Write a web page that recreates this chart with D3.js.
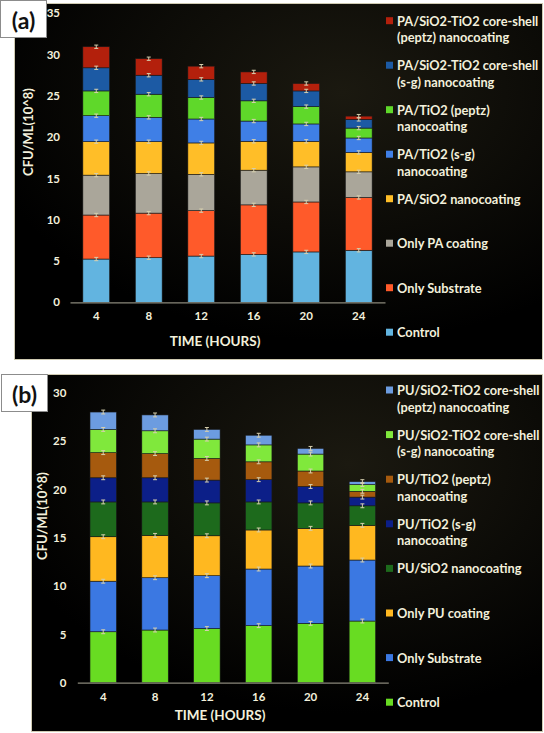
<!DOCTYPE html>
<html>
<head>
<meta charset="utf-8">
<script src="https://cdn.jsdelivr.net/npm/d3@7"></script>
<style>
  html, body { margin: 0; padding: 0; background: #ffffff; }
  svg { display: block; }
  text { font-family: Lato, "Open Sans", "DejaVu Sans", sans-serif; font-weight: bold; }
</style>
</head>
<body>
<svg id="chart" width="544" height="733"></svg>
<script>
// ---------------- DATA ----------------
const hours = ["4", "8", "12", "16", "20", "24"];

// Panel (a) series (bottom -> top of the stack)
const seriesA = [
  "Control",
  "Only Substrate",
  "Only PA coating",
  "PA/SiO2 nanocoating",
  "PA/TiO2 (s-g) nanocoating",
  "PA/TiO2 (peptz) nanocoating",
  "PA/SiO2-TiO2 core-shell (s-g) nanocoating",
  "PA/SiO2-TiO2 core-shell (peptz) nanocoating"
];
const controlA      = [5.24, 5.40, 5.60, 5.80, 6.10, 6.30];
const substrateA    = [5.33, 5.40, 5.50, 6.00, 6.05, 6.40];
const onlyPA        = [4.83, 4.80, 4.40, 4.20, 4.25, 3.10];
const paSiO2        = [4.05, 3.85, 3.80, 3.50, 3.10, 2.35];
const paTiO2sg      = [3.15, 2.95, 2.90, 2.45, 2.10, 1.75];
const paTiO2peptz   = [3.00, 2.80, 2.60, 2.45, 2.10, 1.20];
const paCoreSg      = [2.80, 2.30, 2.20, 2.10, 1.90, 1.05];
const paCorePeptz   = [2.55, 2.00, 1.60, 1.40, 0.90, 0.40];
const valuesA = [controlA, substrateA, onlyPA, paSiO2, paTiO2sg, paTiO2peptz, paCoreSg, paCorePeptz];
const colorsA = ["#62b4e0", "#ff5a2a", "#aaa69a", "#ffbe28", "#3f7fe6", "#5fd82a", "#1c5aa4", "#b3200c"];
const legendA = [
  ["PA/SiO2-TiO2 core-shell", "(peptz) nanocoating"],
  ["PA/SiO2-TiO2 core-shell", "(s-g) nanocoating"],
  ["PA/TiO2 (peptz)", "nanocoating"],
  ["PA/TiO2 (s-g)", "nanocoating"],
  ["PA/SiO2 nanocoating"],
  ["Only PA coating"],
  ["Only Substrate"],
  ["Control"]
];
const ticksA = [0, 5, 10, 15, 20, 25, 30, 35];

// Panel (b) series (bottom -> top of the stack)
const seriesB = [
  "Control",
  "Only Substrate",
  "Only PU coating",
  "PU/SiO2 nanocoating",
  "PU/TiO2 (s-g) nanocoating",
  "PU/TiO2 (peptz) nanocoating",
  "PU/SiO2-TiO2 core-shell (s-g) nanocoating",
  "PU/SiO2-TiO2 core-shell (peptz) nanocoating"
];
const controlB      = [5.27, 5.45, 5.60, 5.90, 6.14, 6.38];
const substrateB    = [5.23, 5.41, 5.47, 5.86, 5.93, 6.31];
const onlyPU        = [4.60, 4.38, 4.13, 4.04, 3.90, 3.59];
const puSiO2        = [3.60, 3.46, 3.40, 2.90, 2.63, 2.02];
const puTiO2sg      = [2.50, 2.50, 2.36, 2.30, 1.70, 0.90];
const puTiO2peptz   = [2.60, 2.50, 2.24, 1.85, 1.60, 0.60];
const puCoreSg      = [2.40, 2.36, 2.00, 1.75, 1.75, 0.70];
const puCorePeptz   = [1.80, 1.64, 1.00, 1.00, 0.59, 0.30];
const valuesB = [controlB, substrateB, onlyPU, puSiO2, puTiO2sg, puTiO2peptz, puCoreSg, puCorePeptz];
const colorsB = ["#68dc22", "#3b78e2", "#ffb820", "#1d6a1c", "#0c1f88", "#a65a0e", "#80e83c", "#6c9ce0"];
const legendB = [
  ["PU/SiO2-TiO2 core-shell", "(peptz) nanocoating"],
  ["PU/SiO2-TiO2 core-shell", "(s-g) nanocoating"],
  ["PU/TiO2 (peptz)", "nanocoating"],
  ["PU/TiO2 (s-g)", "nanocoating"],
  ["PU/SiO2 nanocoating"],
  ["Only PU coating"],
  ["Only Substrate"],
  ["Control"]
];
const ticksB = [0, 5, 10, 15, 20, 25, 30];

const errHalf = 0.2; // half-length of the small error bars (CFU/ML x10^8)
const textColor = "#f3f0dc";

// ---------------- DRAW ----------------
const svg = d3.select("#chart");
const defs = svg.append("defs");
const bg = defs.append("radialGradient").attr("id", "bgGrad")
  .attr("cx", "0.62").attr("cy", "0.25").attr("r", "0.7");
bg.append("stop").attr("offset", "0").attr("stop-color", "#1b1910");
bg.append("stop").attr("offset", "1").attr("stop-color", "#000000");

function drawPanel(p) {
  const g = svg.append("g");
  // background box
  g.append("rect")
    .attr("x", p.box[0] + 0.5).attr("y", p.box[1] + 0.5)
    .attr("width", p.box[2] - p.box[0]).attr("height", p.box[3] - p.box[1])
    .attr("fill", "url(#bgGrad)").attr("stroke", "#cfcab2").attr("stroke-width", 1);

  const x = d3.scaleBand().domain(hours).range(p.xRange)
    .paddingInner(0.49).paddingOuter(0.245);
  const y = d3.scaleLinear().domain([0, p.yMax]).range(p.yRange);

  const table = hours.map((h, i) => {
    const row = { hour: h };
    p.series.forEach((s, k) => { row[s] = p.values[k][i]; });
    return row;
  });
  const stacked = d3.stack().keys(p.series)(table);

  // bars
  const layers = g.append("g").selectAll("g").data(stacked).join("g")
    .attr("fill", (d, k) => p.colors[k]);
  layers.selectAll("rect").data(d => d).join("rect")
    .attr("x", d => x(d.data.hour))
    .attr("width", x.bandwidth())
    .attr("y", d => y(d[1]))
    .attr("height", d => y(d[0]) - y(d[1]))
    .attr("stroke", "#1a1a1a").attr("stroke-width", 0.6);

  // error bars at each segment top
  const eb = g.append("g").attr("stroke", "#d6cfae").attr("stroke-width", 1);
  stacked.forEach(layer => {
    layer.forEach(d => {
      const cx = x(d.data.hour) + x.bandwidth() / 2;
      const y1 = y(d[1] + errHalf), y2 = y(d[1] - errHalf);
      eb.append("line").attr("x1", cx).attr("x2", cx).attr("y1", y1).attr("y2", y2);
      eb.append("line").attr("x1", cx - 2).attr("x2", cx + 2).attr("y1", y1).attr("y2", y1);
      eb.append("line").attr("x1", cx - 2).attr("x2", cx + 2).attr("y1", y2).attr("y2", y2);
    });
  });

  // y axis
  const ya = g.append("g").attr("transform", `translate(${p.xRange[0]},0)`)
    .call(d3.axisLeft(y).tickValues(p.ticks).tickSize(0).tickPadding(p.yPad));
  ya.select(".domain").remove();
  ya.selectAll("text").attr("fill", textColor).style("font-size", "11.5px")
    .style("font-weight", "bold");

  // x axis
  const xa = g.append("g").attr("transform", `translate(0,${p.yRange[0]})`)
    .call(d3.axisBottom(x).tickSize(0).tickPadding(10));
  xa.select(".domain").attr("stroke", "#8a877a").attr("stroke-width", 1.2);
  xa.selectAll("text").attr("fill", textColor).style("font-size", "11.5px")
    .style("font-weight", "bold");

  // axis titles
  g.append("text").attr("x", p.xTitle[0]).attr("y", p.xTitle[1])
    .attr("text-anchor", "middle").attr("dominant-baseline", "central")
    .attr("fill", textColor).style("font-size", "13.5px").text("TIME (HOURS)");
  g.append("text")
    .attr("transform", `translate(${p.yTitle[0]},${p.yTitle[1]}) rotate(-90)`)
    .attr("text-anchor", "middle").attr("dominant-baseline", "central")
    .attr("fill", textColor).style("font-size", "13px").text("CFU/ML(10^8)");

  // legend (top entry = last series)
  const lg = g.append("g");
  p.legend.forEach((lines, j) => {
    const k = p.series.length - 1 - j;
    const yy = p.legendY0 + j * p.legendStep;
    lg.append("rect").attr("x", p.legendX).attr("y", yy - 3.5)
      .attr("width", 7).attr("height", 7).attr("fill", p.colors[k]);
    lines.forEach((ln, li) => {
      lg.append("text").attr("x", p.legendX + 11).attr("y", yy + li * 16.5)
        .attr("dominant-baseline", "central").attr("fill", textColor)
        .style("font-size", "12.8px").text(ln);
    });
  });

  // panel label
  g.append("rect").attr("x", p.label[0] + 0.5).attr("y", p.label[1] + 0.5)
    .attr("width", 46).attr("height", 37)
    .attr("fill", "#ffffff").attr("stroke", "#8c8c8c").attr("stroke-width", 1);
  g.append("text").attr("x", p.label[0] + 23.5).attr("y", p.label[1] + 19.5)
    .attr("text-anchor", "middle").attr("dominant-baseline", "central")
    .attr("fill", "#111").style("font-size", "23px").text(p.labelText);
}

drawPanel({
  box: [14, 3, 542, 359],
  xRange: [70, 385], yRange: [302.3, 13.3], yMax: 35, ticks: ticksA, yPad: 10,
  series: seriesA, values: valuesA, colors: colorsA, legend: legendA,
  xTitle: [215, 341], yTitle: [28, 132],
  legendX: 386, legendY0: 20.7, legendStep: 44.5,
  label: [0, 0], labelText: "(a)"
});

drawPanel({
  box: [31, 374, 542, 731],
  xRange: [77.3, 388.3], yRange: [682.7, 392.7], yMax: 30, ticks: ticksB, yPad: 11,
  series: seriesB, values: valuesB, colors: colorsB, legend: legendB,
  xTitle: [220, 715], yTitle: [42, 516],
  legendX: 386, legendY0: 390, legendStep: 44.6,
  label: [1, 374], labelText: "(b)"
});
</script>
</body>
</html>
